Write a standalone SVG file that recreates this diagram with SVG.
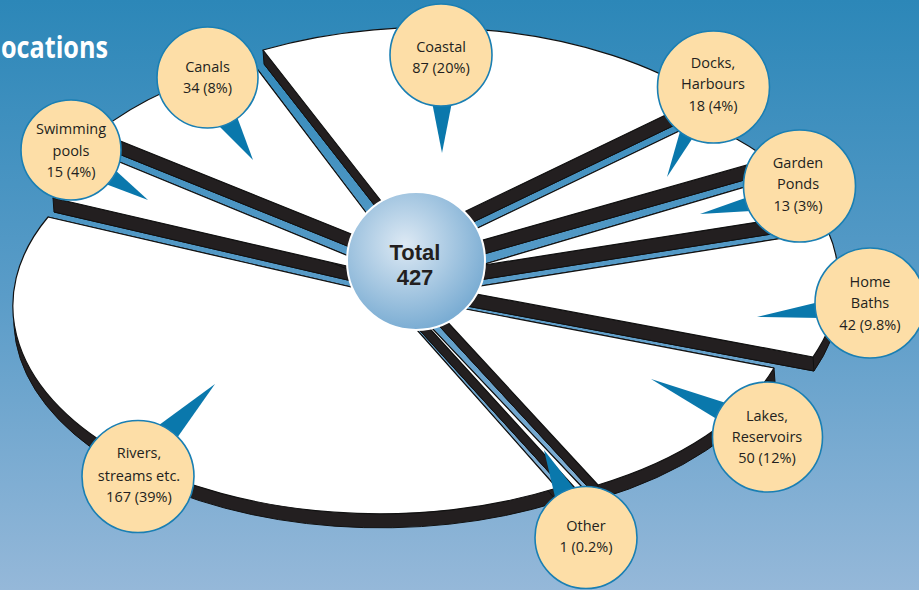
<svg xmlns="http://www.w3.org/2000/svg" xmlns:xlink="http://www.w3.org/1999/xlink" width="919" height="590" viewBox="0 0 919 590">
<defs>
<linearGradient id="bg" x1="0" y1="0" x2="0" y2="1">
<stop offset="0" stop-color="#2c87b8"/>
<stop offset="0.5" stop-color="#5a9cc8"/>
<stop offset="1" stop-color="#95b8d9"/>
</linearGradient>
<radialGradient id="tot" cx="0.42" cy="0.38" r="0.62">
<stop offset="0" stop-color="#dde9f4"/>
<stop offset="1" stop-color="#7badd3"/>
</radialGradient>
<style>
.side{fill:#231f20;stroke:#111;stroke-width:1;stroke-linejoin:round}
.top{fill:#fff;stroke:#111;stroke-width:1.2;stroke-linejoin:round}
.ptr{fill:#0a78ac}
.bub{fill:#fddea7;stroke:#1a7fb3;stroke-width:1.6}
.lbl{font-family:"Open Sans","Liberation Sans",sans-serif;font-size:14.5px;fill:#231f20;text-anchor:middle}
.tl{font-family:"Liberation Sans",Arial,sans-serif;font-size:22px;font-weight:bold;fill:#231f20;text-anchor:middle}
</style>
<path id="f-co" d="M410,238 L263,50 A367,208 0 0 1 703,97 Z"/>
<path id="f-ca" d="M396,252 L98,132 A367,208 0 0 1 252,62 Z"/>
<path id="f-sw" d="M407,280 L53,198 A367,208 0 0 1 100,154 Z"/>
<path id="f-ri" d="M386,295 L557,488 A367,208 0 0 1 48,217 Z"/>
<path id="f-ot" d="M362,254 L582,487 A367,208 0 0 1 575,488 Z"/>
<path id="f-la" d="M429,302 L774,368 A367,208 0 0 1 598,485 Z"/>
<path id="f-hb" d="M455,290 L828,231 A367,208 0 0 1 813,357 Z"/>
<path id="f-ga" d="M478,266 L775,178 A367,208 0 0 1 790,217 Z"/>
<path id="f-do" d="M409,261 L700,121 A367,208 0 0 1 768,159 Z"/>
</defs>
<rect width="919" height="590" fill="url(#bg)"/>
<text x="1" y="58" font-family="Open Sans, Liberation Sans, sans-serif" font-weight="bold" font-size="31" fill="#fff" textLength="107" lengthAdjust="spacingAndGlyphs">ocations</text>

<g id="slices">
<g id="slice-coastal">
<use xlink:href="#f-co" class="side" transform="translate(1,14)"/>
<polygon class="side" points="410,238 263,50 264,64 411,252"/>
<polygon class="side" points="410,238 703,97 704,111 411,252"/>
<use xlink:href="#f-co" class="top"/>
</g>
<g id="slice-docks">
<use xlink:href="#f-do" class="side" transform="translate(1,14)"/>
<polygon class="side" points="409,261 700,121 701,135 410,275"/>
<polygon class="side" points="409,261 768,159 769,173 410,275"/>
<use xlink:href="#f-do" class="top"/>
</g>
<g id="slice-canals">
<use xlink:href="#f-ca" class="side" transform="translate(1,14)"/>
<polygon class="side" points="396,252 98,132 99,146 397,266"/>
<polygon class="side" points="396,252 252,62 253,76 397,266"/>
<use xlink:href="#f-ca" class="top"/>
</g>
<g id="slice-garden">
<use xlink:href="#f-ga" class="side" transform="translate(1,14)"/>
<polygon class="side" points="478,266 775,178 776,192 479,280"/>
<polygon class="side" points="478,266 790,217 791,231 479,280"/>
<use xlink:href="#f-ga" class="top"/>
</g>
<g id="slice-swimming">
<use xlink:href="#f-sw" class="side" transform="translate(1,14)"/>
<polygon class="side" points="407,280 53,198 54,212 408,294"/>
<polygon class="side" points="407,280 100,154 101,168 408,294"/>
<use xlink:href="#f-sw" class="top"/>
</g>
<g id="slice-homebaths">
<use xlink:href="#f-hb" class="side" transform="translate(1,14)"/>
<polygon class="side" points="455,290 828,231 829,245 456,304"/>
<polygon class="side" points="455,290 813,357 814,371 456,304"/>
<use xlink:href="#f-hb" class="top"/>
</g>
<g id="slice-rivers">
<use xlink:href="#f-ri" class="side" transform="translate(1,14)"/>
<polygon class="side" points="386,295 557,488 558,502 387,309"/>
<polygon class="side" points="386,295 48,217 49,231 387,309"/>
<use xlink:href="#f-ri" class="top"/>
</g>
<g id="slice-lakes">
<use xlink:href="#f-la" class="side" transform="translate(1,14)"/>
<polygon class="side" points="429,302 774,368 775,382 430,316"/>
<polygon class="side" points="429,302 598,485 599,499 430,316"/>
<use xlink:href="#f-la" class="top"/>
</g>
<g id="slice-other">
<use xlink:href="#f-ot" class="side" transform="translate(1,14)"/>
<polygon class="side" points="362,254 582,487 583,501 363,268"/>
<polygon class="side" points="362,254 575,488 576,502 363,268"/>
<use xlink:href="#f-ot" class="top"/>
</g>
</g>

<g id="total">
<circle cx="416" cy="261" r="69" fill="url(#tot)" stroke="#fff" stroke-width="2"/>
<text class="tl" x="415" y="260">Total</text>
<text class="tl" x="415" y="285">427</text>
</g>

<g id="connectors">
<polygon class="ptr" points="216,123 253,160 236,114"/>
<polygon class="ptr" points="103,183 148,200 114,169"/>
<polygon class="ptr" points="432,102 442,153 452,102"/>
<polygon class="ptr" points="681,128 667,177 694,136"/>
<polygon class="ptr" points="748,197 700,214 751,211"/>
<polygon class="ptr" points="819,302 757,317 821,318"/>
<polygon class="ptr" points="726,403 651,379 720,421"/>
<polygon class="ptr" points="555,497 544,450 577,492"/>
<polygon class="ptr" points="155,428 215,384 177,438"/>
</g>

<g id="node-canals">
<circle class="bub" cx="207.5" cy="77.5" r="50.5"/>
<text class="lbl" x="207.5" y="72">Canals</text>
<text class="lbl" x="207.5" y="93">34 (8%)</text>
</g>
<g id="node-swimming">
<circle class="bub" cx="71" cy="150" r="50"/>
<text class="lbl" x="71" y="134">Swimming</text>
<text class="lbl" x="71" y="156">pools</text>
<text class="lbl" x="71" y="177">15 (4%)</text>
</g>
<g id="node-coastal">
<circle class="bub" cx="441" cy="55" r="51"/>
<text class="lbl" x="441" y="52">Coastal</text>
<text class="lbl" x="441" y="73">87 (20%)</text>
</g>
<g id="node-docks">
<circle class="bub" cx="713.5" cy="87" r="56"/>
<text class="lbl" x="713" y="68">Docks,</text>
<text class="lbl" x="713" y="89">Harbours</text>
<text class="lbl" x="713" y="111">18 (4%)</text>
</g>
<g id="node-garden">
<circle class="bub" cx="799.5" cy="186" r="56"/>
<text class="lbl" x="798" y="168">Garden</text>
<text class="lbl" x="798" y="189">Ponds</text>
<text class="lbl" x="798" y="211">13 (3%)</text>
</g>
<g id="node-homebaths">
<circle class="bub" cx="870" cy="303" r="55"/>
<text class="lbl" x="870" y="287">Home</text>
<text class="lbl" x="870" y="308">Baths</text>
<text class="lbl" x="870" y="330">42 (9.8%)</text>
</g>
<g id="node-lakes">
<circle class="bub" cx="767.5" cy="437" r="55"/>
<text class="lbl" x="767" y="421">Lakes,</text>
<text class="lbl" x="767" y="442">Reservoirs</text>
<text class="lbl" x="767" y="463">50 (12%)</text>
</g>
<g id="node-other">
<circle class="bub" cx="586" cy="537.5" r="51"/>
<text class="lbl" x="586" y="531">Other</text>
<text class="lbl" x="586" y="552">1 (0.2%)</text>
</g>
<g id="node-rivers">
<circle class="bub" cx="138" cy="476.5" r="56"/>
<text class="lbl" x="139" y="458">Rivers,</text>
<text class="lbl" x="139" y="481">streams etc.</text>
<text class="lbl" x="139" y="502">167 (39%)</text>
</g>
</svg>
